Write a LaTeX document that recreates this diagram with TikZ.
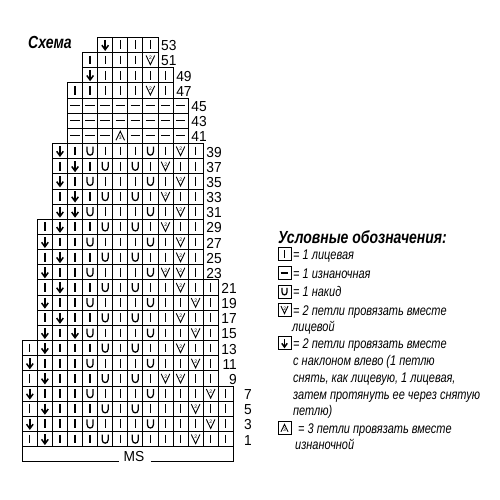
\documentclass[tikz,border=0pt]{standalone}
\usepackage{fontspec}
\setmainfont{Liberation Sans}
\newfontfamily\labfont[FakeStretch=0.95]{Liberation Sans}
\newfontfamily\legfont[FakeStretch=0.785]{Liberation Sans}
\newfontfamily\titfont[FakeStretch=0.8]{Liberation Sans}
\newcommand\dsymK{\draw[sym] (0,-4.4) -- (0,4.4);}
\newcommand\dsymP{\draw[sym] (-4.7,0) -- (4.7,0);}
\newcommand\dsymU{\draw[sym] (-3,-4.4) -- (-3,0.8) .. controls (-3,5.2) and (3,5.2) .. (3,0.8) -- (3,-4.4);}
\newcommand\dsymV{\draw[thinsym] (-4.3,-4.5) -- (0,4.6) -- (4.3,-4.5);
  \node[tinynum] at (0.2,-1.8) {2};}
\newcommand\dsymD{\draw[line width=1.6pt] (0,-5) -- (0,4.2);
  \draw[line width=1.5pt, line join=miter] (-3.3,0.3) -- (0,4.8) -- (3.3,0.3);}
\newcommand\dsymA{\draw[thinsym] (-4.3,4.5) -- (0,-4.6) -- (4.3,4.5);
  \node[tinynum] at (0,1.9) {3};}
\begin{document}
\begin{tikzpicture}[x=1pt,y=-1pt,
  cellbox/.style={draw=black, line width=0.8pt},
  sym/.style={line width=1.25pt},
  thinsym/.style={line width=0.9pt, line join=miter},
  tinynum/.style={font=\fontsize{5}{5}\selectfont, inner sep=0pt},
  lab/.style={font={\labfont\fontsize{14.5}{16}\selectfont}, inner sep=0pt, anchor=east},
  leg/.style={font={\legfont\itshape\fontsize{14}{16}\selectfont}, inner sep=0pt, anchor=base west},
  tit/.style={font={\titfont\bfseries\itshape\fontsize{17.5}{20}\selectfont}, inner sep=0pt, anchor=base west}]
\useasboundingbox (0,0) rectangle (500,500);
\fill[white] (0,0) rectangle (500,500);
% chart
\foreach \r/\c/\R/\s in {
53/5/9/{D,K,K,K},
51/4/9/{K,K,K,K,V},
49/4/10/{D,K,K,K,K,K},
47/3/10/{K,K,K,K,K,V,K},
45/3/11/{P,P,P,P,P,P,P,P},
43/3/11/{P,P,P,P,P,P,P,P},
41/3/11/{P,P,P,A,P,P,P,P},
39/2/12/{D,K,U,K,K,K,U,K,V,K},
37/2/12/{K,D,K,U,K,U,K,V,K,K},
35/2/12/{D,K,U,K,K,K,U,K,V,K},
33/2/12/{K,D,K,U,K,U,K,V,K,K},
31/2/12/{D,D,U,K,K,K,U,K,V,K},
29/1/12/{K,D,K,K,U,K,U,K,V,K,K},
27/1/12/{D,K,K,U,K,K,K,U,K,V,K},
25/1/12/{K,D,K,K,U,K,U,K,K,V,K},
23/1/12/{D,K,K,U,K,K,K,U,V,V,K},
21/1/13/{K,D,K,K,U,K,U,K,K,V,K,K},
19/1/13/{D,K,K,U,K,K,K,U,K,K,V,K},
17/1/13/{K,D,K,K,U,K,U,K,K,V,K,K},
15/1/13/{D,K,D,U,K,K,K,U,K,K,V,K},
13/0/13/{K,D,K,K,K,U,K,U,K,K,V,K,K},
11/0/13/{D,K,K,K,U,K,K,K,U,K,K,V,K},
9/0/13/{K,D,K,K,K,U,K,U,K,V,V,K,K},
7/0/14/{D,K,K,K,U,K,K,K,U,K,K,K,V,K},
5/0/14/{K,D,K,K,K,U,K,U,K,K,K,V,K,K},
3/0/14/{D,K,K,K,U,K,K,K,U,K,K,K,V,K},
1/0/14/{K,D,K,K,K,U,K,U,K,K,K,V,K,K}}
{
  \pgfmathsetmacro\yt{37.3+(53-\r)/2*15.16}
  \foreach \t [count=\k from 0] in \s {
    \pgfmathsetmacro\xl{22.3+(\c+\k)*15.07}
    \draw[cellbox] (\xl,\yt) rectangle ++(15.07,15.16);
    \begin{scope}[shift={(\xl+7.535,\yt+7.58)}]
      \csname dsym\t\endcsname
    \end{scope}
  }
  \node[lab] (l\r) at ({22.3+\R*15.07+18.8},{\yt+8.6}) {\r};
}
% MS bracket
\node[lab, anchor=base] (ms) at (134,461.5) {MS};
\draw[cellbox] (22.3,446.7) -- (22.3,461.7) -- (119,461.7);
\draw[cellbox] (150.5,461.7) -- (233.3,461.7) -- (233.3,446.7);
% titles
\node[tit] (t1) at (28,48.5) {Схема};
\node[tit] (t2) at (278,243.5) {Условные обозначения:};
% legend icons
\foreach \t/\yb in {K/259.3, P/278.3, U/296.7, V/315, D/348.3, A/433.3} {
  \draw[cellbox] (278,\yb-11.7) rectangle ++(13,13);
  \begin{scope}[shift={(284.5,\yb-5.2)}, scale=0.82]
    \csname dsym\t\endcsname
  \end{scope}
}
% legend texts
\node[leg] (e1) at (293,259.3) {= 1 лицевая};
\node[leg] (e2) at (293,278.3) {= 1 изнаночная};
\node[leg] (e3) at (293,296.7) {= 1 накид};
\node[leg] (e4) at (293,315) {= 2 петли провязать вместе};
\node[leg] (e4b) at (292,331.7) {лицевой};
\node[leg] (e5) at (293,348.3) {= 2 петли провязать вместе};
\node[leg] (e5b) at (293,365) {с наклоном влево (1 петлю};
\node[leg] (e5c) at (293,382) {снять, как лицевую, 1 лицевая,};
\node[leg] (e5d) at (293,399) {затем протянуть ее через снятую};
\node[leg] (e5e) at (293,415) {петлю)};
\node[leg] (e6) at (298,433.3) {= 3 петли провязать вместе};
\node[leg] (e6b) at (295,449) {изнаночной};
\end{tikzpicture}
\end{document}
